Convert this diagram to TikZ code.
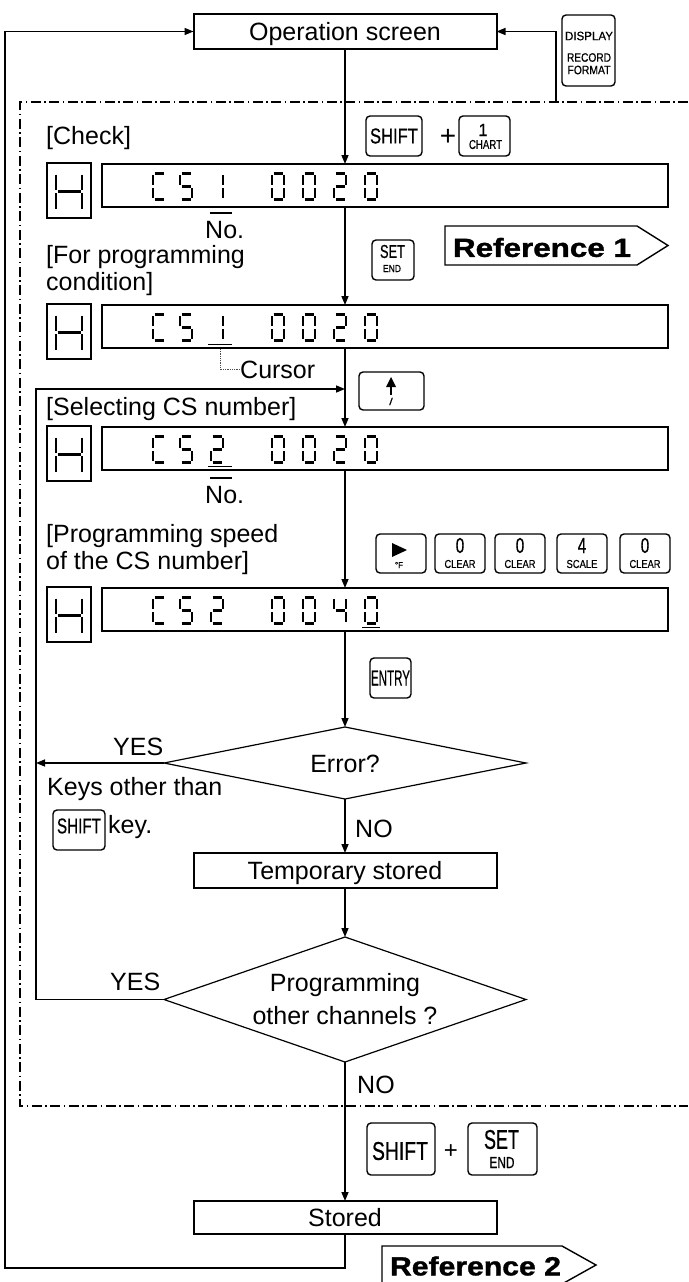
\documentclass[tikz,border=0pt]{standalone}
\usepackage{fontspec}
\setmainfont{Liberation Sans}
\newfontfamily\blackfont{Liberation Sans}[BoldFeatures={FakeBold=1.2}]
\newfontfamily\keyfont{Liberation Sans}[FakeBold=0.6]
\usepackage{graphicx}
\usetikzlibrary{arrows.meta,shapes.geometric}

\newcommand\kt[3]{\resizebox{#1pt}{#2pt}{\keyfont #3}}
\newcommand\sevseg[6]{% x, top y, w, h, list, width
 \foreach \s in #5 {%
  \if\s a\draw[line width=#6pt] (#1+1.5,#2) -- (#1+#3-1.5,#2);\fi
  \if\s b\draw[line width=#6pt] (#1+#3,#2+1.5) -- (#1+#3,#2+#4/2-1.5);\fi
  \if\s c\draw[line width=#6pt] (#1+#3,#2+#4/2+1.5) -- (#1+#3,#2+#4-1.5);\fi
  \if\s d\draw[line width=#6pt] (#1+1.5,#2+#4) -- (#1+#3-1.5,#2+#4);\fi
  \if\s e\draw[line width=#6pt] (#1,#2+#4/2+1.5) -- (#1,#2+#4-1.5);\fi
  \if\s f\draw[line width=#6pt] (#1,#2+1.5) -- (#1,#2+#4/2-1.5);\fi
  \if\s g\draw[line width=#6pt] (#1+1.5,#2+#4/2) -- (#1+#3-1.5,#2+#4/2);\fi
 }}
\def\SC{a,f,e,d}
\def\SS{a,f,g,c,d}
\def\SI{b,c}
\def\SZ{a,b,c,d,e,f}
\def\ST{a,b,g,e,d}
\def\SV{f,b,g,c}
\def\SH{f,e,b,c,g}
\newcommand\dg[3]{\sevseg{#1}{#2}{12}{26}{#3}{2.5}}
\newcommand\disprow[8]{% top y, seven chars
 \dg{153}{#1}{#2}\dg{180}{#1}{#3}\dg{211}{#1}{#4}%
 \dg{272}{#1}{#5}\dg{303}{#1}{#6}\dg{334}{#1}{#7}\dg{365}{#1}{#8}}
\newcommand\hglyph[1]{\sevseg{56}{#1}{26}{37}{\SH}{2.6}}

\begin{document}
\begin{tikzpicture}[x=1pt,y=-1pt,font=\fontsize{25}{30}\selectfont,
 conn/.style={line width=1.5pt},
 arr/.style={conn,-{Triangle[length=9pt,width=7pt]}},
 box/.style={draw,line width=2pt,minimum width=303pt,inner sep=0pt,outer sep=0pt,text height=18pt,text depth=0pt},
 disp/.style={draw,line width=2.2pt,minimum width=566pt,minimum height=43pt,inner sep=0pt,outer sep=0pt},
 hbox/.style={draw,line width=1.5pt,minimum width=44pt,minimum height=55pt,inner sep=0pt,outer sep=0pt},
 keybox/.style={draw,line width=1.4pt,rounded corners=4pt,inner sep=0pt,outer sep=0pt},
 dia/.style={diamond,draw,line width=1.2pt,inner sep=0pt,outer sep=0pt,minimum width=362pt},
 lbl/.style={anchor=base west,inner sep=0pt},
 kl/.style={inner sep=0pt,outer sep=0pt},
 dashdot/.style={line width=1.3pt,dash pattern=on 10pt off 3.5pt on 1.5pt off 3.5pt},
 uline/.style={line width=1.6pt}]
\useasboundingbox (0,0) rectangle (688,1282);

% dash-dot frame
\draw[dashdot] (688,102) -- (20,102) -- (20,1106) -- (688,1106);

% main boxes
\node[box,minimum height=35pt] (op) at (345,31.5) {Operation screen};
\node[box,minimum height=35pt] (tmp) at (345,870.5) {Temporary stored};
\node[box,minimum height=33pt] (st) at (345,1217.5) {Stored};
\node[dia,minimum height=72pt,shape aspect=5,text height=18pt,text depth=0pt] (dm1) at (345,763) {Error?};
\node[dia,minimum height=125pt,shape aspect=2.9,align=center,font=\fontsize{25}{33}\selectfont] (dm2) at (345,999.5) {Programming\\other channels ?};

% displays
\node[disp] (d1) at (385,185.5) {};
\node[hbox] (h1) at (69,190.5) {};
\node[disp] (d2) at (385,326.5) {};
\node[hbox] (h2) at (69,331.5) {};
\node[disp] (d3) at (385,448.5) {};
\node[hbox] (h3) at (69,453.5) {};
\node[disp] (d4) at (385,609.5) {};
\node[hbox] (h4) at (69,614.5) {};
\hglyph{173}\hglyph{314}\hglyph{436}\hglyph{597}
\disprow{173.5}{\SC}{\SS}{\SI}{\SZ}{\SZ}{\ST}{\SZ}
\disprow{314.5}{\SC}{\SS}{\SI}{\SZ}{\SZ}{\ST}{\SZ}
\disprow{436.5}{\SC}{\SS}{\ST}{\SZ}{\SZ}{\ST}{\SZ}
\disprow{597.5}{\SC}{\SS}{\ST}{\SZ}{\SZ}{\SV}{\SZ}
\draw[uline] (208,344.5) -- (232,344.5);
\draw[uline] (208,466.5) -- (232,466.5);
\draw[uline] (362,627.5) -- (380,627.5);

% labels
\node[lbl] (lcheck) at (46,144) {[Check]};
\node[lbl] (no1) at (205,238) {No.};
\draw[line width=1.3pt] (210,213) -- (232,213);
\node[lbl] (lfor1) at (46,263) {[For programming};
\node[lbl] (lfor2) at (46,290) {condition]};
\node[lbl] (cur) at (240,378) {Cursor};
\node[lbl] (lsel) at (46,415) {[Selecting CS number]};
\node[lbl] (no2) at (205,503) {No.};
\draw[line width=1.3pt] (210,478) -- (232,478);
\node[lbl] (lsp1) at (46,542) {[Programming speed};
\node[lbl] (lsp2) at (46,569) {of the CS number]};
\node[lbl] (yes1) at (113,755) {YES};
\node[lbl] (kot) at (47,795) {Keys other than};
\node[lbl] (keyd) at (108,833) {key.};
\node[lbl] (no3) at (355,837) {NO};
\node[lbl] (yes2) at (110,990) {YES};
\node[lbl] (no4) at (357,1093) {NO};

\coordinate (cpt) at (220,349);
\draw[densely dotted,line width=0.8pt,black!70] (cpt) |- (cur.west);

% keys
\node[keybox,minimum width=53pt,minimum height=71pt] (kdisp) at (588.5,50.5) {};
\node[kl] (kdisp1) at (589,36) {\kt{48}{8.5}{DISPLAY}};
\node[kl] (kdisp2) at (589,57.5) {\kt{44}{8.5}{RECORD}};
\node[kl] (kdisp3) at (589,70) {\kt{43}{8.5}{FORMAT}};

\node[keybox,minimum width=56pt,minimum height=40pt] (ks1) at (394,136) {};
\node[kl] at (ks1.center) {\kt{48}{15}{SHIFT}};
\node[kl,font=\fontsize{28}{28}\selectfont] (plus1) at (448,137) {+};
\node[keybox,minimum width=51pt,minimum height=40pt] (kc) at (484.5,136) {};
\node[kl] at (483,130) {\kt{9}{12}{1}};
\node[kl] at (485.5,144.5) {\kt{33}{9}{CHART}};

\node[keybox,minimum width=42pt,minimum height=40pt] (kse) at (393,260) {};
\node[kl] at (392.5,251.5) {\kt{25}{13}{SET}};
\node[kl] at (392,268.5) {\kt{18}{7}{END}};

\node[keybox,minimum width=65pt,minimum height=38pt] (kup) at (391.5,391) {};
\fill (386,387) -- (396,387) -- (391,377) -- cycle;
\draw[line width=2pt] (391,386) -- (391,395);
\node[kl] at (391,401.5) {\kt{3.5}{7}{/}};

\foreach \cx/\a/\b in {460/0/CLEAR,520/0/CLEAR,582/4/SCALE,645/0/CLEAR}{
 \node[keybox,minimum width=50pt,minimum height=39pt] at (\cx,553.5) {};
 \node[kl] at (\cx,545.5) {\kt{8.5}{15}{\a}};
 \node[kl] at (\cx,564) {\kt{31}{8}{\b}};
}
\node[keybox,minimum width=50pt,minimum height=39pt] (kr) at (401,553.5) {};
\fill (392,543) -- (392,557) -- (407,550) -- cycle;
\node[kl] at (399,565) {\kt{8}{6}{°F}};

\node[keybox,minimum width=41pt,minimum height=40pt] (ken) at (390.5,678) {};
\node[kl] at (390.5,678) {\kt{39}{15}{ENTRY}};

\node[keybox,minimum width=52pt,minimum height=40pt] (ks2) at (79,830) {};
\node[kl] at (79,826) {\kt{44}{15}{SHIFT}};

\node[keybox,minimum width=68pt,minimum height=52pt] (ks3) at (401,1149) {};
\node[kl] at (400,1151) {\kt{56}{18}{SHIFT}};
\node[kl,font=\fontsize{24}{24}\selectfont] (plus2) at (451,1152) {+};
\node[keybox,minimum width=69pt,minimum height=52pt] (kse2) at (502.5,1149) {};
\node[kl] at (501.5,1139.5) {\kt{35}{19}{SET}};
\node[kl] at (502,1162.5) {\kt{25}{11}{END}};

% reference tags
\draw[line width=1.4pt] (445,226) -- (637,226) -- (668,245.5) -- (637,265) -- (445,265) -- cycle;
\node[kl] (ref1) at (542,247.5) {\resizebox{178pt}{19pt}{\blackfont\bfseries Reference 1}};
\draw[line width=1.4pt] (382,1246) -- (562,1246) -- (596,1265) -- (562,1284) -- (382,1284) -- cycle;
\node[kl] (ref2) at (475.5,1266) {\resizebox{171pt}{19pt}{\blackfont\bfseries Reference 2}};

% connectors
\coordinate (mx) at (345,0);
\coordinate (lx) at (36,0);
\coordinate (ox) at (5,0);
\coordinate (jn) at (345,389);
\coordinate (rx) at (556,102);
\coordinate (bot) at (345,1268);
\draw[arr] (op.south) -- (op.south |- d1.north);
\draw[arr] (d1.south -| mx) -- (d2.north -| mx);
\draw[arr] (d2.south -| mx) -- (d3.north -| mx);
\draw[arr] (d3.south -| mx) -- (d4.north -| mx);
\draw[arr] (d4.south -| mx) -- (dm1.north);
\draw[arr] (dm1.west) -- (dm1.west -| lx);
\draw[arr] (dm1.south) -- (tmp.north);
\draw[arr] (tmp.south) -- (dm2.north);
\draw[arr] (dm2.south) -- (st.north);
\draw[arr] (dm2.west) -- (dm2.west -| lx) -- (jn -| lx) -- (jn);
\draw[arr] (st.south) -- (bot) -| (ox |- op.west) -- (op.west);
\draw[arr] (rx) -- (rx |- op.east) -- (op.east);
\end{tikzpicture}
\end{document}
